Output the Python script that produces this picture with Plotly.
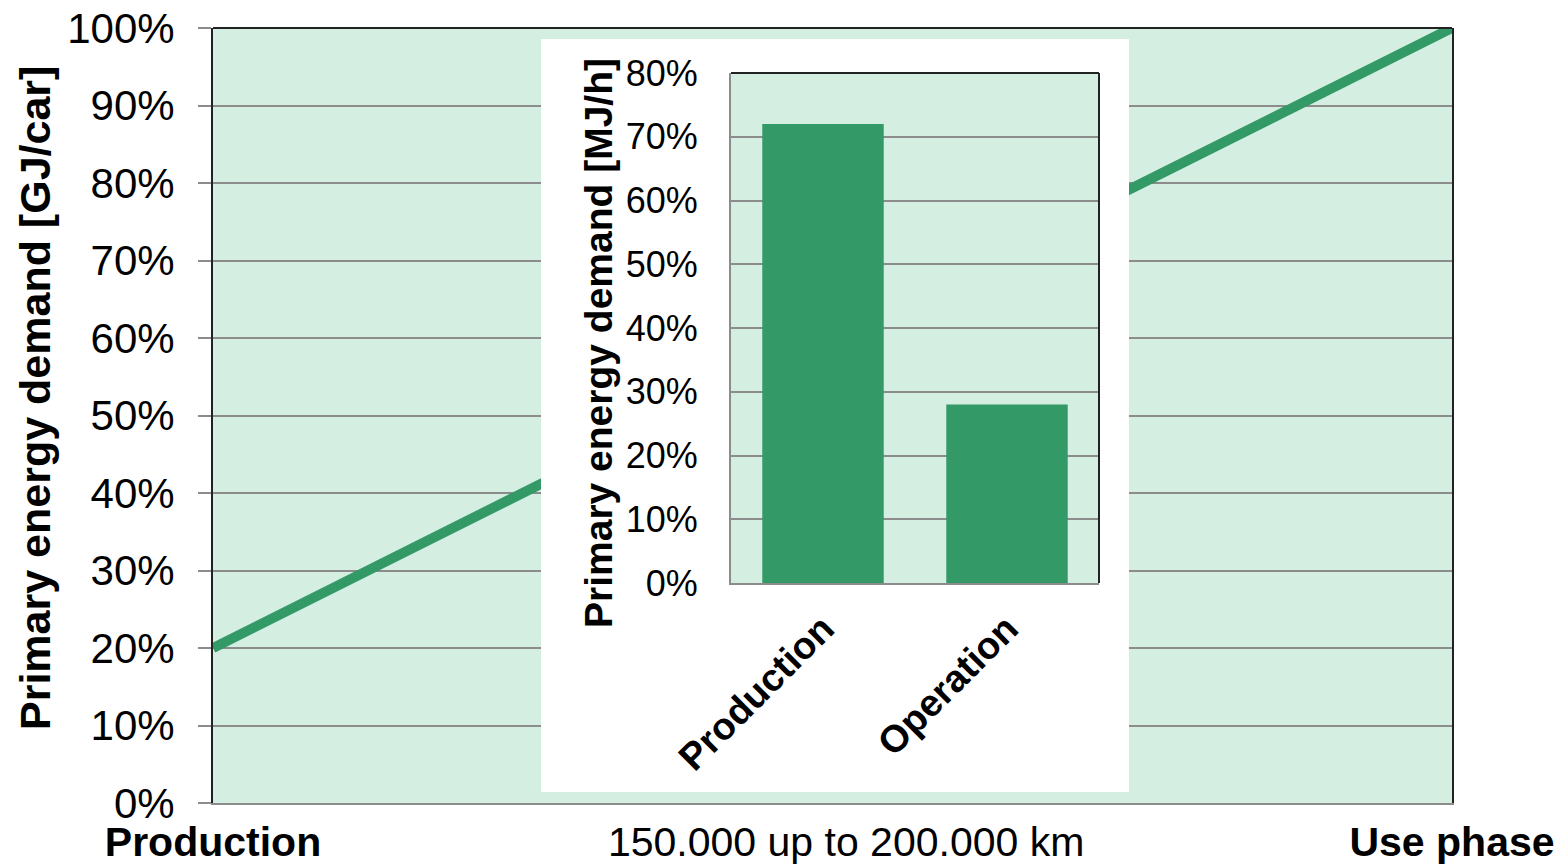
import plotly.graph_objects as go

# Main chart: cumulative primary energy demand over the vehicle life
life_x = [0, 1]
life_share = [20, 100]
life_tickvals = [0, 0.511, 1]
life_ticktext = ["<b>Production</b>", "150.000 up to 200.000 km", "<b>Use phase</b>"]

# Inset chart: share per phase
phases = ["Production", "Operation"]
phase_share = [72, 28]

GREEN = "#339966"
BG = "#D4EFE1"
GRID = "#8C8C8C"
DARK = "#222222"
FONT = "Liberation Sans, Arial, sans-serif"

W, H = 1565, 865

fig = go.Figure()

fig.add_trace(go.Scatter(
    x=life_x, y=life_share, mode="lines",
    line=dict(color=GREEN, width=10),
    xaxis="x", yaxis="y", showlegend=False, hoverinfo="skip",
))

fig.add_trace(go.Bar(
    x=phases, y=phase_share, marker=dict(color=GREEN, line=dict(width=0)),
    xaxis="x3", yaxis="y3", showlegend=False, hoverinfo="skip",
))

main_x = [213 / W, 1452 / W]
main_y = [1 - 803 / H, 1 - 28 / H]
card_x = [541 / W, 1129 / W]
card_y = [1 - 792 / H, 1 - 39 / H]
ins_x = [731 / W, 1099 / W]
ins_y = [1 - 583 / H, 1 - 73 / H]

hidden = dict(visible=False, range=[0, 1], fixedrange=True)

fig.update_layout(
    width=W, height=H,
    margin=dict(l=0, r=0, t=0, b=0),
    paper_bgcolor="white", plot_bgcolor=BG,
    font=dict(family=FONT, color="black", size=42),
    bargap=0.34,
    xaxis=dict(
        domain=main_x, range=[0, 1], tickvals=life_tickvals, ticktext=life_ticktext,
        showgrid=False, zeroline=False, showline=True, linecolor=GRID, linewidth=2,
        ticks="", ticklabelstandoff=2, tickfont=dict(size=41), automargin=False,
    ),
    yaxis=dict(
        domain=main_y, range=[0, 100], dtick=10, ticksuffix="%",
        showgrid=True, gridcolor=GRID, gridwidth=2, zeroline=False,
        showline=True, linecolor=DARK, linewidth=2, mirror=True,
        ticks="outside", ticklen=13, tickcolor=GRID, tickwidth=2,
        ticklabelstandoff=15, tickfont=dict(size=42), automargin=False,
    ),
    # white card that holds the inset chart
    xaxis2=dict(domain=card_x, anchor="y2", **hidden),
    yaxis2=dict(domain=card_y, anchor="x2", **hidden),
    # inset bar chart
    xaxis3=dict(
        domain=ins_x, anchor="y3", range=[-0.5, 1.5], showgrid=False, zeroline=False,
        showline=True, linecolor=GRID, linewidth=2, ticks="",
        tickangle=-45, tickfont=dict(size=38, weight="bold"),
        ticklabelstandoff=6, automargin=False,
    ),
    yaxis3=dict(
        domain=ins_y, anchor="x3", range=[0, 80], dtick=10, ticksuffix="%",
        showgrid=True, gridcolor=GRID, gridwidth=2, zeroline=False,
        showline=True, linecolor=GRID, linewidth=2, ticks="",
        ticklabelstandoff=24, tickfont=dict(size=36), automargin=False,
    ),
    shapes=[
        dict(type="rect", xref="x2", yref="y2", x0=0, x1=1, y0=0, y1=1,
             fillcolor="white", line=dict(width=0), layer="below"),
        dict(type="rect", xref="x3", yref="y3", x0=-0.5, x1=1.5, y0=0, y1=80,
             fillcolor=BG, line=dict(width=0), layer="below"),
        # dark top / right borders
        dict(type="line", xref="paper", yref="paper",
             x0=main_x[0], x1=main_x[1], y0=main_y[1], y1=main_y[1],
             line=dict(color=DARK, width=2), layer="above"),
        dict(type="line", xref="paper", yref="paper",
             x0=ins_x[0], x1=ins_x[1], y0=ins_y[1], y1=ins_y[1],
             line=dict(color=DARK, width=2), layer="above"),
        dict(type="line", xref="paper", yref="paper",
             x0=ins_x[1], x1=ins_x[1], y0=ins_y[0], y1=ins_y[1],
             line=dict(color=DARK, width=2), layer="above"),
    ],
    annotations=[
        dict(text="<b>Primary energy demand [GJ/car]</b>", textangle=-90,
             xref="paper", yref="paper", x=35 / W, y=1 - 398 / H,
             showarrow=False, font=dict(size=43), xanchor="center", yanchor="middle"),
        dict(text="<b>Primary energy demand [MJ/h]</b>", textangle=-90,
             xref="paper", yref="paper", x=598 / W, y=1 - 343 / H,
             showarrow=False, font=dict(size=39), xanchor="center", yanchor="middle"),
    ],
)

fig.write_html("out.html")
